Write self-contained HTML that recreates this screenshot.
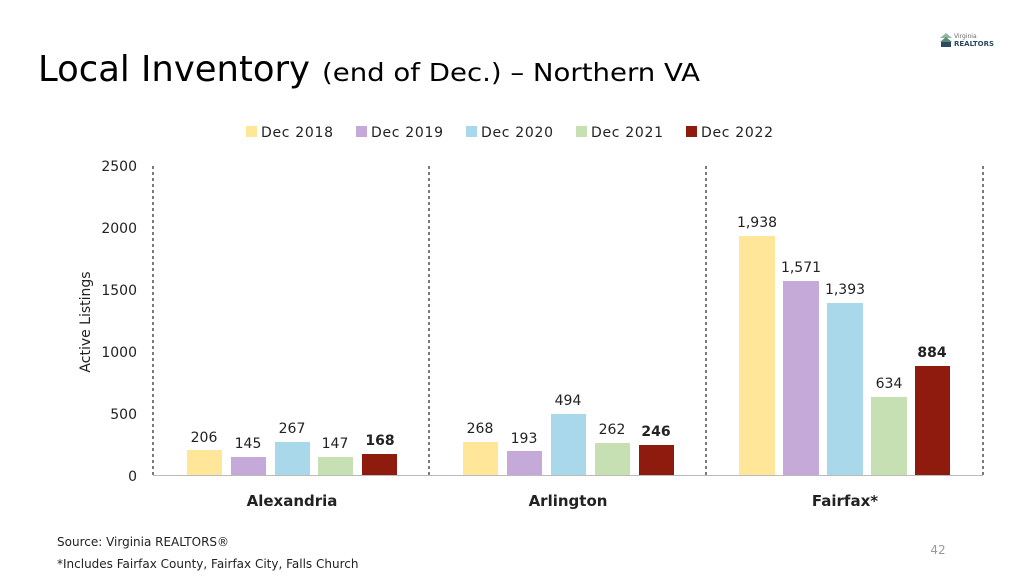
<!DOCTYPE html>
<html><head><style>
body{margin:0;width:1024px;height:576px;background:#fff;font-family:"DejaVu Sans",sans-serif;overflow:hidden}
</style></head><body>
<svg width="1024" height="576" xmlns="http://www.w3.org/2000/svg" font-family="DejaVu Sans, sans-serif">
<text x="38" y="81" font-size="36" fill="#000" textLength="272" lengthAdjust="spacingAndGlyphs">Local Inventory</text>
<text x="322" y="81" font-size="25" fill="#000" textLength="378" lengthAdjust="spacingAndGlyphs">(end of Dec.) – Northern VA</text>
<!-- logo -->
<polygon points="940,38 946,33 952,38" fill="#8fb8a0"/>
<polygon points="940,42 946,37 952,42" fill="#5b8a72"/>
<rect x="941" y="42" width="10" height="5" fill="#2b4a60"/>
<text x="954" y="38" font-size="6" fill="#666">Virginia</text>
<text x="954" y="46" font-size="7" fill="#2b4a60" font-weight="bold">REALTORS</text>
<!-- legend -->
<g font-size="14" fill="#222">
<rect x="246" y="126" width="11" height="11" fill="#FFE699"/><text x="261" y="137" textLength="72">Dec 2018</text>
<rect x="356" y="126" width="11" height="11" fill="#C5A9D8"/><text x="371" y="137" textLength="72">Dec 2019</text>
<rect x="466" y="126" width="11" height="11" fill="#A9D8EA"/><text x="481" y="137" textLength="72">Dec 2020</text>
<rect x="576" y="126" width="11" height="11" fill="#C6E0B4"/><text x="591" y="137" textLength="72">Dec 2021</text>
<rect x="686" y="126" width="11" height="11" fill="#8F1A0E"/><text x="701" y="137" textLength="72">Dec 2022</text>
</g>
<!-- y axis -->
<g font-size="14" fill="#222" text-anchor="end">
<text x="137" y="171">2500</text><text x="137" y="233">2000</text><text x="137" y="295">1500</text>
<text x="137" y="357">1000</text><text x="137" y="419">500</text><text x="137" y="481">0</text>
</g>
<text transform="translate(90,322) rotate(-90)" font-size="14" text-anchor="middle" fill="#222">Active Listings</text>
<g stroke="#222" stroke-width="1.2" stroke-dasharray="3,3">
<line x1="153" y1="166" x2="153" y2="478"/><line x1="429" y1="166" x2="429" y2="478"/>
<line x1="706" y1="166" x2="706" y2="478"/><line x1="983" y1="166" x2="983" y2="478"/>
</g>
<line x1="153" y1="475.5" x2="983" y2="475.5" stroke="#bbb"/>
<g>
<rect x="187" y="450" width="35" height="25" fill="#FFE699"/>
<rect x="231" y="457" width="35" height="18" fill="#C5A9D8"/>
<rect x="275" y="442" width="35" height="33" fill="#A9D8EA"/>
<rect x="318" y="457" width="35" height="18" fill="#C6E0B4"/>
<rect x="362" y="454" width="35" height="21" fill="#8F1A0E"/>
<rect x="463" y="442" width="35" height="33" fill="#FFE699"/>
<rect x="507" y="451" width="35" height="24" fill="#C5A9D8"/>
<rect x="551" y="414" width="35" height="61" fill="#A9D8EA"/>
<rect x="595" y="443" width="35" height="32" fill="#C6E0B4"/>
<rect x="639" y="445" width="35" height="30" fill="#8F1A0E"/>
<rect x="739" y="236" width="36" height="239" fill="#FFE699"/>
<rect x="783" y="281" width="36" height="194" fill="#C5A9D8"/>
<rect x="827" y="303" width="36" height="172" fill="#A9D8EA"/>
<rect x="871" y="397" width="36" height="78" fill="#C6E0B4"/>
<rect x="915" y="366" width="35" height="109" fill="#8F1A0E"/>
</g>
<g font-size="14" fill="#222" text-anchor="middle">
<text x="204" y="442">206</text><text x="248" y="448">145</text><text x="292" y="433">267</text>
<text x="335" y="448">147</text><text x="380" y="445" font-weight="bold">168</text>
<text x="480" y="433">268</text><text x="524" y="443">193</text><text x="568" y="405">494</text>
<text x="612" y="434">262</text><text x="656" y="436" font-weight="bold">246</text>
<text x="757" y="227">1,938</text><text x="801" y="272">1,571</text><text x="845" y="294">1,393</text>
<text x="889" y="388">634</text><text x="932" y="357" font-weight="bold">884</text>
</g>
<g font-size="15" font-weight="bold" fill="#222" text-anchor="middle">
<text x="292" y="506">Alexandria</text><text x="568" y="506">Arlington</text><text x="845" y="506">Fairfax*</text>
</g>
<text x="57" y="546" font-size="12" fill="#222">Source: Virginia REALTORS®</text>
<text x="57" y="568" font-size="12" fill="#222">*Includes Fairfax County, Fairfax City, Falls Church</text>
<text x="938" y="554" font-size="12" fill="#999" text-anchor="middle">42</text>
</svg>
</body></html>
